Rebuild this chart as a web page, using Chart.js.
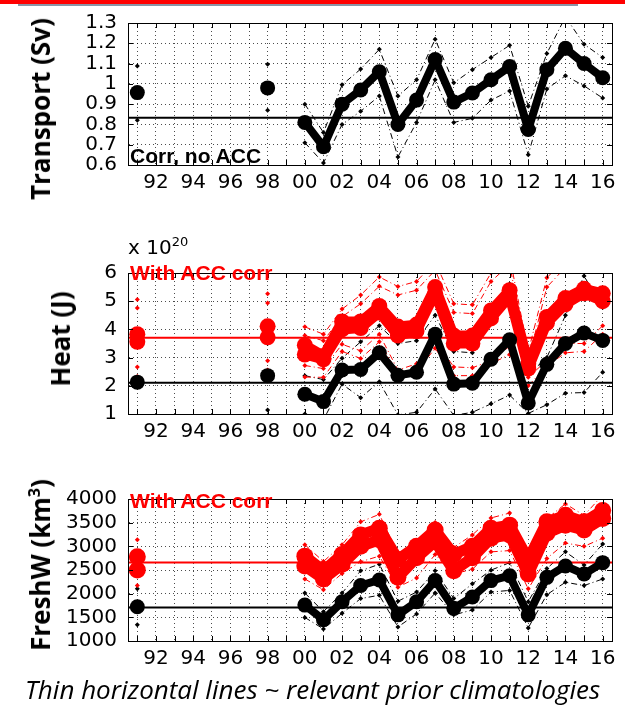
<!DOCTYPE html>
<html>
<head>
<meta charset="utf-8">
<script src="https://cdn.jsdelivr.net/npm/chart.js@4.4.1/dist/chart.umd.min.js"></script>
<style>
  body { margin: 0; width: 625px; height: 714px; background: #fff; position: relative; overflow: hidden; font-family: "DejaVu Sans", sans-serif; }
  .panel { position: absolute; left: 0; }
  .ytitle { position: absolute; font: bold 26px "Open Sans", sans-serif; transform: translate(-50%, -50%) rotate(-90deg); white-space: nowrap; color: #000; }
  .tag { position: absolute; font: bold 21px "Liberation Sans", Arial, sans-serif; white-space: nowrap; line-height: 22px; }
  #topRed { position: absolute; left: 0; top: 0; width: 625px; height: 4px; background: #f00; }
  #topGray { position: absolute; left: 18px; top: 4px; width: 560px; height: 2px; background: #8a94a6; }
  #caption { position: absolute; left: 0; width: 625px; top: 671px; text-align: center; font: italic 26px "Open Sans", sans-serif; color: #000; }
  #scale { position: absolute; left: 128px; top: 234px; font: 20px "DejaVu Sans", sans-serif; }
  #scale sup { font-size: 13px; }
</style>
</head>
<body>
<div id="topRed"></div><div id="topGray"></div>

<div class="panel" style="top:0px"><canvas id="c1" width="625" height="200"></canvas></div>
<div class="panel" style="top:250px"><canvas id="c2" width="625" height="200"></canvas></div>
<div class="panel" style="top:476px"><canvas id="c3" width="625" height="200"></canvas></div>

<div class="ytitle" style="left:40px;top:109px">Transport (Sv)</div>
<div class="ytitle" style="left:60px;top:339px">Heat (J)</div>
<div class="ytitle" style="left:40px;top:565px">FreshW (km<sup style="font-size:16px">3</sup>)</div>

<div class="tag" style="left:130px;top:145px;color:#000">Corr, no ACC</div>
<div class="tag" style="left:130px;top:262px;color:#f00">With ACC corr</div>
<div class="tag" style="left:130px;top:490px;color:#f00">With ACC corr</div>
<div id="scale">x 10<sup>20</sup></div>

<div id="caption">Thin horizontal lines ~ relevant prior climatologies</div>

<script>
// x axis
const X_MIN = 1990.5, X_MAX = 2016.5;
const gridYears = [1991,1992,1993,1994,1995,1996,1997,1998,1999,2000,2001,2002,2003,2004,2005,2006,2007,2008,2009,2010,2011,2012,2013,2014,2015,2016];
const labelYears = [1992,1994,1996,1998,2000,2002,2004,2006,2008,2010,2012,2014,2016];
const yearLabels = ['92','94','96','98','00','02','04','06','08','10','12','14','16'];

// transport (Sv)
const yearsT = [1991,1998,2000,2001,2002,2003,2004,2005,2006,2007,2008,2009,2010,2011,2012,2013,2014,2015,2016];
const transport   = [0.957,0.98,0.81,0.69,0.90,0.97,1.06,0.80,0.92,1.12,0.91,0.955,1.02,1.085,0.775,1.07,1.175,1.10,1.03];
const transportHi = [1.088,1.097,0.90,0.76,0.995,1.073,1.17,0.94,1.02,1.22,1.005,1.07,1.13,1.19,0.89,1.15,1.33,1.195,1.13];
const transportLo = [0.82,0.87,0.71,0.61,0.80,0.865,0.94,0.64,0.81,1.02,0.81,0.83,0.92,0.965,0.65,0.975,1.04,0.99,0.93];
const transportClim = 0.833;
const transportTicks = [0.6,0.7,0.8,0.9,1.0,1.1,1.2,1.3];

// heat (x 10^20 J)
const yearsH = yearsT;
const heat   = [2.13,2.36,1.70,1.44,2.56,2.58,3.17,2.37,2.48,3.83,2.06,2.09,2.94,3.63,1.39,2.76,3.5,3.87,3.61];
const heatHi = [3.38,3.5,2.36,2.22,2.98,3.56,4.13,3.5,3.6,4.5,3.22,3.17,4.2,5.61,2.4,3.0,4.5,5.89,4.78];
const heatLo = [0.9,1.14,1.0,0.8,2.06,1.58,2.14,0.97,1.06,1.89,0.95,1.06,1.36,1.67,1.02,1.33,1.74,1.76,2.48];
const heatAccA = [3.83,4.11,3.44,3.06,4.28,4.28,4.83,4.1,4.17,5.5,3.78,3.78,4.67,5.39,2.78,4.44,5.11,5.44,5.28];
const heatAccB = [3.56,3.72,3.11,2.94,4.0,4.05,4.6,3.78,3.94,5.28,3.5,3.5,4.39,5.17,2.61,4.22,4.89,5.28,5.0];
const heatAccHiA = [5.06,5.26,4.09,3.83,4.72,5.22,5.86,5.52,5.7,6.4,4.91,4.87,6.0,6.6,3.2,5.83,6.5,6.8,6.5];
const heatAccHiB = [4.76,4.94,3.78,3.6,4.45,4.91,5.53,5.22,5.39,6.1,4.6,4.56,5.7,6.3,2.9,5.5,6.2,6.5,6.2];
const heatAccLoA = [2.67,2.89,2.72,2.61,3.47,3.24,3.83,2.56,2.78,3.61,2.67,2.64,2.89,3.4,2.3,2.9,3.5,3.5,4.13];
const heatAccLoB = [2.33,2.56,2.31,2.3,3.22,2.97,3.56,2.44,2.5,3.33,2.36,2.36,2.78,3.11,2.0,2.7,3.17,3.22,3.83];
const heatClim = 2.11, heatAccClim = 3.7;
const heatTicks = [1,2,3,4,5,6];

// freshwater (km3)
const yearsF = [1991,2000,2001,2002,2003,2004,2005,2006,2007,2008,2009,2010,2011,2012,2013,2014,2015,2016];
const fresh   = [1724,1759,1448,1828,2172,2290,1552,1828,2276,1690,1931,2276,2379,1552,2345,2586,2414,2655];
const freshHi = [2103,2014,1620,2014,2483,2621,1841,2034,2483,1897,2207,2497,2655,1830,2531,2883,2607,3048];
const freshLo = [1345,1497,1255,1586,1897,1966,1297,1572,2014,1552,1655,2034,2069,1276,1979,2241,2172,2310];
const freshAccA = [2780,2793,2483,2828,3241,3380,2724,3000,3345,2828,3000,3380,3448,2724,3517,3655,3517,3759];
const freshAccB = [2500,2586,2310,2620,3000,3138,2345,2759,3103,2483,2759,3172,3241,2414,3276,3448,3345,3586];
const freshAccHi = [3138,3034,2680,3034,3517,3676,2848,3069,3503,2979,3241,3600,3703,2850,3586,3897,3655,4083];
const freshAccLo = [2172,2310,2083,2428,2676,2793,2138,2331,2828,2414,2517,2883,2910,2103,2745,3069,3000,3172];
const freshClim = 1710, freshAccClim = 2660;
const freshTicks = [1000,1500,2000,2500,3000,3500,4000];

const BLACK = '#000', RED = '#ff0000';
const FONT = '"DejaVu Sans", sans-serif';

const pts = (xs, ys) => xs.map((x, i) => ({ x, y: ys[i] }));
// don't join points more than a year apart
const gapSeg = col => ({ borderColor: c => (c.p1.parsed.x - c.p0.parsed.x > 1 ? 'transparent' : col) });

function mainSet(xs, ys, col, w, r) {
  return { data: pts(xs, ys), borderColor: col, backgroundColor: col, borderWidth: w,
    borderJoinStyle: 'round', borderCapStyle: 'round', pointRadius: r, pointBorderWidth: 0, segment: gapSeg(col) };
}
function boundSet(xs, ys, col) {
  return { data: pts(xs, ys), borderColor: col, backgroundColor: col, borderWidth: 1,
    borderDash: [6, 3, 1, 3], pointStyle: 'rectRot', pointRadius: 2.5, pointBorderWidth: 0, segment: gapSeg(col) };
}
function climSet(v, col) {
  return { data: [{ x: X_MIN, y: v }, { x: X_MAX, y: v }], borderColor: col, borderWidth: 2, pointRadius: 0 };
}

// box round the plot, with short inward tick marks like matlab
const frame = {
  id: 'frame',
  afterDatasetsDraw(chart) {
    const { ctx, chartArea: a, scales } = chart;
    ctx.save();
    ctx.strokeStyle = '#000';
    ctx.lineWidth = 1;
    ctx.strokeRect(a.left + 0.5, a.top + 0.5, a.right - a.left, a.bottom - a.top);
    ctx.beginPath();
    scales.x.ticks.forEach(t => {
      const px = Math.round(scales.x.getPixelForValue(t.value)) + 0.5;
      ctx.moveTo(px, a.bottom); ctx.lineTo(px, a.bottom - 5);
      ctx.moveTo(px, a.top); ctx.lineTo(px, a.top + 5);
    });
    scales.y.ticks.forEach(t => {
      const py = Math.round(scales.y.getPixelForValue(t.value)) + 0.5;
      ctx.moveTo(a.left, py); ctx.lineTo(a.left + 5, py);
      ctx.moveTo(a.right, py); ctx.lineTo(a.right - 5, py);
    });
    ctx.stroke();
    ctx.restore();
  }
};

function makeChart(id, datasets, yTicks, padTop) {
  return new Chart(document.getElementById(id), {
    type: 'line',
    data: { datasets },
    plugins: [frame],
    options: {
      responsive: false,
      animation: false,
      layout: { padding: { top: padTop, right: 13, left: 0, bottom: 0 } },
      plugins: { legend: { display: false }, tooltip: { enabled: false } },
      scales: {
        x: {
          type: 'linear', min: X_MIN, max: X_MAX,
          afterBuildTicks: s => { s.ticks = gridYears.map(v => ({ value: v })); },
          afterFit: s => { s.height = 200 - padTop - 150; },
          ticks: {
            autoSkip: false, maxRotation: 0, padding: 6, color: '#000',
            font: { size: 20, family: FONT },
            callback: v => { const i = labelYears.indexOf(v); return i < 0 ? '' : yearLabels[i]; }
          },
          grid: { color: 'rgba(0,0,0,0.7)', lineWidth: 1, drawTicks: false },
          border: { color: '#000', width: 1, dash: [1, 3] }
        },
        y: {
          type: 'linear', min: yTicks[0], max: yTicks[yTicks.length - 1],
          afterBuildTicks: s => { s.ticks = yTicks.map(v => ({ value: v })); },
          afterFit: s => { s.width = 128; },
          ticks: {
            autoSkip: false, padding: 11, color: '#000', font: { size: 20, family: FONT },
            callback: v => String(+v.toFixed(2))
          },
          grid: { color: 'rgba(0,0,0,0.7)', lineWidth: 1, drawTicks: false },
          border: { color: '#000', width: 1, dash: [1, 3] }
        }
      }
    }
  });
}

// first dataset is drawn on top
makeChart('c1', [
  mainSet(yearsT, transport, BLACK, 8, 7.5),
  climSet(transportClim, BLACK),
  boundSet(yearsT, transportHi, BLACK),
  boundSet(yearsT, transportLo, BLACK)
], transportTicks, 15);

makeChart('c2', [
  climSet(heatClim, BLACK),
  mainSet(yearsH, heat, BLACK, 8, 7.5),
  climSet(heatAccClim, RED),
  mainSet(yearsH, heatAccA, RED, 10, 8),
  mainSet(yearsH, heatAccB, RED, 10, 8),
  boundSet(yearsH, heatAccHiA, RED),
  boundSet(yearsH, heatAccHiB, RED),
  boundSet(yearsH, heatAccLoA, RED),
  boundSet(yearsH, heatAccLoB, RED),
  boundSet(yearsH, heatHi, BLACK),
  boundSet(yearsH, heatLo, BLACK)
], heatTicks, 14);

makeChart('c3', [
  climSet(freshClim, BLACK),
  mainSet(yearsF, fresh, BLACK, 8, 7.5),
  climSet(freshAccClim, RED),
  mainSet(yearsF, freshAccA, RED, 11, 8.5),
  mainSet(yearsF, freshAccB, RED, 11, 8.5),
  boundSet(yearsF, freshAccHi, RED),
  boundSet(yearsF, freshAccLo, RED),
  boundSet(yearsF, freshHi, BLACK),
  boundSet(yearsF, freshLo, BLACK)
], freshTicks, 15);
</script>
</body>
</html>
